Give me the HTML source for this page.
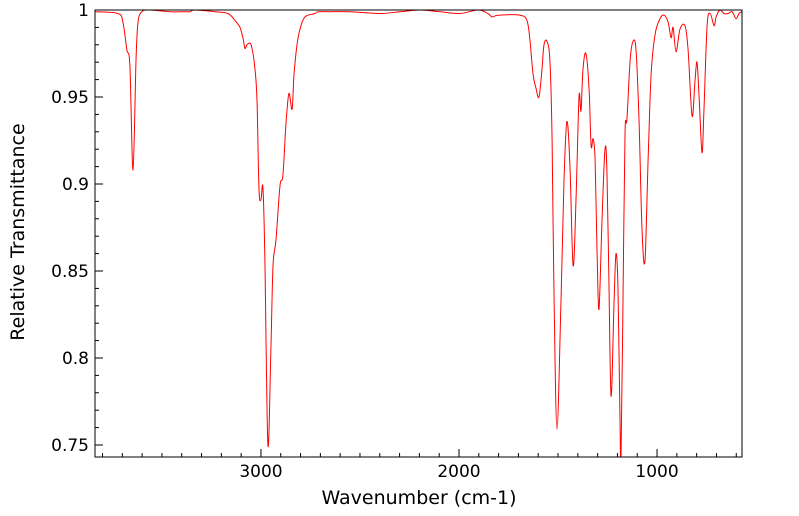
<!DOCTYPE html>
<html><head><meta charset="utf-8">
<style>
html,body{margin:0;padding:0;background:#fff;}
svg{display:block;font-family:"DejaVu Sans","Liberation Sans",sans-serif;}
</style></head>
<body>
<svg id="chart" width="799" height="516" xmlns="http://www.w3.org/2000/svg"></svg>
<script>
const wavenumbers = [3838,3722,3697,3677,3662,3646,3631,3621,3601,3561,3460,3384,3359,3333,3232,3167,3131,3106,3091,3081,3071,3056,3045,3030,3020,3010,3000,2990,2980,2965,2950,2939,2924,2904,2889,2874,2859,2843,2833,2818,2803,2778,2727,2712,2652,2551,2399,2298,2197,2096,1995,1904,1854,1833,1803,1692,1657,1642,1626,1611,1596,1581,1571,1556,1541,1530,1520,1505,1485,1470,1455,1439,1424,1409,1394,1384,1374,1359,1343,1333,1323,1313,1303,1293,1278,1263,1253,1243,1232,1217,1207,1197,1187,1182,1172,1162,1152,1136,1121,1106,1091,1076,1061,1045,1030,1010,985,965,944,929,919,904,884,859,843,823,808,798,788,773,763,747,732,712,702,682,662,641,621,601,586,571];
const transmittance = [0.999,0.998,0.993,0.977,0.968,0.908,0.971,0.993,0.999,1.000,0.999,0.999,0.999,1.000,0.999,0.998,0.994,0.990,0.984,0.978,0.980,0.981,0.978,0.966,0.948,0.897,0.891,0.898,0.856,0.750,0.805,0.853,0.868,0.899,0.905,0.934,0.952,0.943,0.963,0.980,0.989,0.996,0.998,0.999,0.999,0.999,0.998,0.999,1.000,0.999,0.998,1.000,0.998,0.996,0.997,0.997,0.994,0.983,0.963,0.955,0.950,0.966,0.980,0.982,0.971,0.925,0.833,0.759,0.833,0.902,0.936,0.908,0.853,0.891,0.950,0.942,0.966,0.975,0.954,0.922,0.926,0.914,0.862,0.828,0.879,0.920,0.908,0.845,0.778,0.833,0.860,0.839,0.764,0.743,0.833,0.928,0.937,0.971,0.982,0.977,0.937,0.874,0.856,0.914,0.963,0.986,0.995,0.997,0.993,0.984,0.990,0.976,0.989,0.991,0.977,0.939,0.960,0.970,0.951,0.918,0.943,0.991,0.998,0.991,0.996,1.000,0.998,0.998,0.999,0.995,0.998,0.999];
const yTickValues = [1,0.95,0.9,0.85,0.8,0.75];
const yTickLabels = ["1","0.95","0.9","0.85","0.8","0.75"];
const xTickValues = [3000,2000,1000];
const xTickLabels = ["3000","2000","1000"];

const NS="http://www.w3.org/2000/svg";
const svg=document.getElementById('chart');
const L=95,R=742,T=10,B=457;
const X0=3838,X1=571,Y0=0.7431,Y1=1.0;
function xs(v){return L+(X0-v)/(X0-X1)*(R-L);}
function ys(v){return B-(v-Y0)/(Y1-Y0)*(B-T);}
function mk(tag,attrs){const e=document.createElementNS(NS,tag);for(const k in attrs)e.setAttribute(k,attrs[k]);svg.appendChild(e);return e;}

const clip=mk('clipPath',{id:'plotclip'});
const cr=document.createElementNS(NS,'rect');
cr.setAttribute('x',L);cr.setAttribute('y',T);cr.setAttribute('width',R-L);cr.setAttribute('height',B-T);
clip.appendChild(cr);

for(let v=0.75;v<=1.0001;v+=0.01){
  const y=ys(v);
  const r=Math.round(v*100);
  const major=r%5===0;
  const t=mk('line',{x1:L,x2:L+(major?8:4),y1:y,y2:y,stroke:'#000','stroke-width':1});
  
  
}
yTickValues.forEach((v,i)=>{
  const t=mk('text',{x:L-6,y:ys(v)+6,'text-anchor':'end','font-size':17,fill:'#000'});
  t.textContent=yTickLabels[i];
  
  
});
for(let v=600;v<=3800;v+=100){
  const x=xs(v);
  const major=v%1000===0;
  const t=mk('line',{x1:x,x2:x,y1:B,y2:B-(major?8:4),stroke:'#000','stroke-width':1});
  
  
}
xTickValues.forEach((v,i)=>{
  const t=mk('text',{x:xs(v),y:477,'text-anchor':'middle','font-size':17,fill:'#000'});
  t.textContent=xTickLabels[i];
  
  
});
const xt=mk('text',{x:419,y:504,'text-anchor':'middle','font-size':19,fill:'#000'});
xt.textContent='Wavenumber (cm-1)';


const yt=mk('text',{x:0,y:0,'text-anchor':'middle','font-size':19,fill:'#000',transform:'translate(24,232) rotate(-90)'});
yt.textContent='Relative Transmittance';



const P=wavenumbers.map((w,i)=>[xs(w),ys(transmittance[i])]);
let d='M'+P[0][0].toFixed(1)+','+P[0][1].toFixed(1);
for(let i=0;i<P.length-1;i++){
  const p0=P[Math.max(0,i-1)],p1=P[i],p2=P[i+1],p3=P[Math.min(P.length-1,i+2)];
  const k=0.5/3;
  const c1=[p1[0]+(p2[0]-p0[0])*k,p1[1]+(p2[1]-p0[1])*k];
  const c2=[p2[0]-(p3[0]-p1[0])*k,p2[1]-(p3[1]-p1[1])*k];
  d+=' C'+c1[0].toFixed(1)+','+c1[1].toFixed(1)+' '+c2[0].toFixed(1)+','+c2[1].toFixed(1)+' '+p2[0].toFixed(1)+','+p2[1].toFixed(1);
}
const line=mk('path',{d:d,fill:'none',stroke:'#ff0000','stroke-width':1,'stroke-linejoin':'round','clip-path':'url(#plotclip)'});



const frame=mk('rect',{x:L,y:T,width:R-L,height:B-T,fill:'none',stroke:'#000','stroke-width':1});


</script>
</body></html>
